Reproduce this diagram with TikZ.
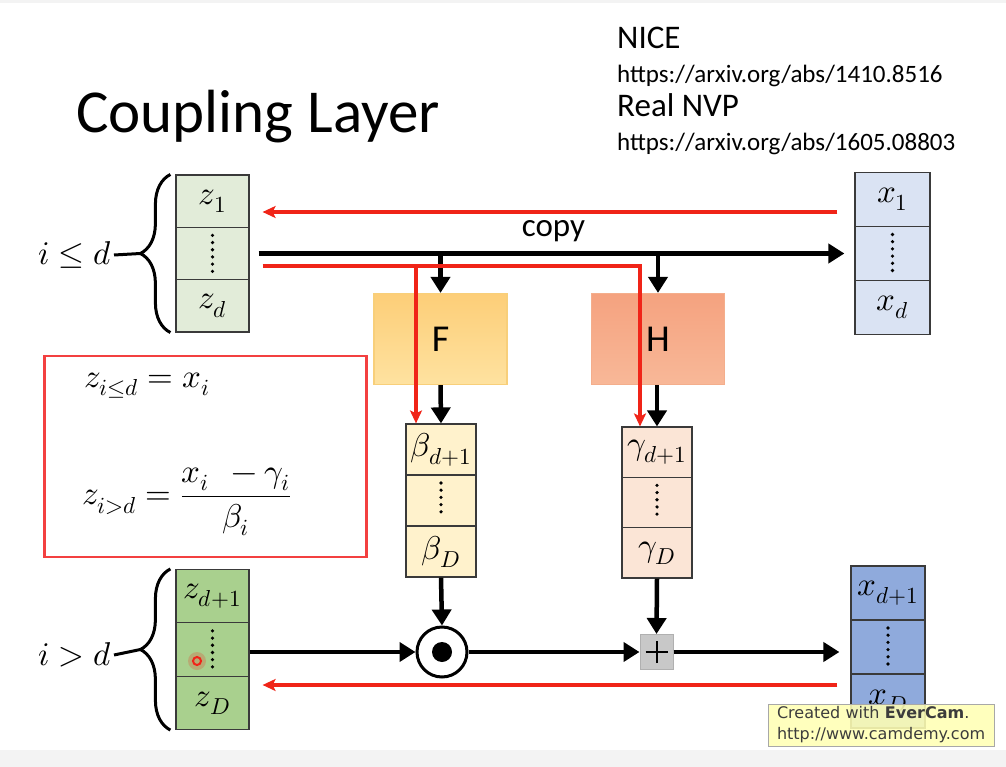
\documentclass[tikz,border=0pt]{standalone}
\usepackage{fontspec}
\usepackage{unicode-math}
\setmainfont{Carlito}
\newfontfamily\markfont{DejaVu Sans}
\usetikzlibrary{arrows.meta,decorations.pathreplacing,calc}

\definecolor{cellline}{HTML}{3A3A3A}
\definecolor{zlight}{HTML}{E2ECD9}
\definecolor{zdark}{HTML}{A9D08E}
\definecolor{xlight}{HTML}{DAE3F3}
\definecolor{xdark}{HTML}{8FAADC}
\definecolor{bfill}{HTML}{FFF2CC}
\definecolor{gfill}{HTML}{FBE5D6}
\definecolor{ftop}{HTML}{FDCE78}
\definecolor{fbot}{HTML}{FEE2A0}
\definecolor{fline}{HTML}{F8CF7A}
\definecolor{htop}{HTML}{F5A27F}
\definecolor{hbot}{HTML}{F8B898}
\definecolor{hline}{HTML}{F4AE8C}
\definecolor{arrowred}{RGB}{240,36,24}
\definecolor{boxred}{RGB}{243,64,64}
\definecolor{plusfill}{HTML}{C8C8C8}
\definecolor{plusline}{HTML}{B0B0B0}
\definecolor{bandgray}{HTML}{F3F3F3}
\definecolor{wmfill}{HTML}{FFFFB4}
\definecolor{wmline}{HTML}{A8A8A8}
\definecolor{wmtext}{HTML}{3C3C3C}

\newcommand\mathsz{\fontsize{33}{37}\selectfont}

\tikzset{
  cell/.style={draw=cellline, line width=1.2pt, inner sep=0pt, font=\mathsz},
  ztop/.style={cell, fill=zlight, minimum width=73pt, minimum height=52.3pt},
  zbot/.style={cell, fill=zdark, minimum width=73pt, minimum height=53.3pt},
  xtop/.style={cell, fill=xlight, minimum width=75pt, minimum height=54pt},
  xbot/.style={cell, fill=xdark, minimum width=74pt, minimum height=54pt},
  bcell/.style={cell, fill=bfill, minimum width=70pt, minimum height=51pt},
  gcell/.style={cell, fill=gfill, minimum width=70pt, minimum height=50.3pt},
  dotcol/.style={path picture={
      \draw[black, line width=3.6pt, line cap=round, dash pattern=on 0pt off 7.2pt]
        ([yshift=-8pt]path picture bounding box.north) --
        ([yshift=8pt]path picture bounding box.south);}},
  netbox/.style={minimum width=133pt, minimum height=91pt, line width=1.2pt,
      inner sep=0pt, font=\fontsize{38}{38}\selectfont},
  blkarr/.style={line width=4.5pt, -{Triangle[length=16pt,width=19pt]}},
  redarr/.style={draw=arrowred, line width=3.2pt,
      -{Stealth[length=13pt,width=12pt,inset=3pt]}},
  bracestyle/.style={line width=3pt, decorate,
      decoration={brace, amplitude=30pt, aspect=0.5}},
  mathlbl/.style={font=\mathsz, inner sep=2pt},
  sidetext/.style={anchor=base west, inner sep=0pt},
}

\begin{document}
\begin{tikzpicture}[x=1pt,y=-1pt]
\useasboundingbox (0,0) rectangle (1006,767);
\fill[white] (0,0) rectangle (1006,767);
\fill[bandgray] (0,0) rectangle (1006,3);
\fill[bandgray] (0,750) rectangle (1006,767);

% titles and references
\node[sidetext, font=\fontsize{61}{61}\selectfont] (title) at (76,133) {Coupling Layer};
\node[sidetext, font=\fontsize{33}{33}\selectfont] (nice) at (617,49) {NICE};
\node[sidetext, font=\fontsize{25}{25}\selectfont] (url1) at (617,83) {https://arxiv.org/abs/1410.8516};
\node[sidetext, font=\fontsize{33}{33}\selectfont] (rnvp) at (617,117) {Real NVP};
\node[sidetext, font=\fontsize{25}{25}\selectfont] (url2) at (617,151) {https://arxiv.org/abs/1605.08803};

% z, first part
\node[ztop] (zt1) at (212.5,201.2) {$z_1$};
\node[ztop, dotcol] (zt2) at (212.5,253.5) {};
\node[ztop] (zt3) at (212.5,305.8) {$z_d$};
% z, second part
\node[zbot] (zb1) at (212.5,596.2) {$z_{d+1}$};
\node[zbot, dotcol] (zb2) at (212.5,649.5) {};
\node[zbot] (zb3) at (212.5,702.8) {$z_D$};
% x, first part
\node[xtop] (xt1) at (892.5,199.5) {$x_1$};
\node[xtop, dotcol] (xt2) at (892.5,253.5) {};
\node[xtop] (xt3) at (892.5,307.5) {$x_d$};
% x, second part
\node[xbot] (xb1) at (888,593) {$x_{d+1}$};
\node[xbot, dotcol] (xb2) at (888,647) {};
\node[xbot] (xb3) at (888,701) {$x_D$};
% beta and gamma
\node[bcell] (bt1) at (441,449.5) {$\beta_{d+1}$};
\node[bcell, dotcol] (bt2) at (441,500.5) {};
\node[bcell] (bt3) at (441,551.5) {$\beta_D$};
\node[gcell] (gm1) at (657,452.2) {$\gamma_{d+1}$};
\node[gcell, dotcol] (gm2) at (657,502.5) {};
\node[gcell] (gm3) at (657,552.8) {$\gamma_D$};

% networks
\node[netbox, draw=fline, top color=ftop, bottom color=fbot] (F) at (440.5,339) {F};
\node[netbox, draw=hline, top color=htop, bottom color=hbot] (H) at (658,339) {H};

% operators
\node[circle, draw, line width=3pt, minimum size=50pt, inner sep=0pt,
      path picture={\fill[black] (path picture bounding box.center) circle (10pt);}] (od) at (442,652) {};
\node[draw=plusline, fill=plusfill, line width=1pt, minimum width=33pt, minimum height=35pt, inner sep=0pt,
      path picture={
        \draw[black, line width=2pt] ([xshift=-11pt]path picture bounding box.center) -- ([xshift=11pt]path picture bounding box.center);
        \draw[black, line width=2pt] ([yshift=-11pt]path picture bounding box.center) -- ([yshift=11pt]path picture bounding box.center);}] (pl) at (656.5,652) {};

% braces and index labels
\draw[bracestyle] ([xshift=-5pt]zt3.south west) -- ([xshift=-5pt]zt1.north west);
\coordinate (ztip) at ([xshift=-35pt]zt2.west);
\node[mathlbl, anchor=east] (lt) at (114,255) {$i \le d$};
\draw[line width=3pt] (lt.east) -- (ztip);
\draw[bracestyle] ([xshift=-5pt]zb3.south west) -- ([xshift=-5pt]zb1.north west);
\coordinate (zbtip) at ([xshift=-35pt]zb2.west);
\node[mathlbl, anchor=east] (lb) at (114,655) {$i > d$};
\draw[line width=3pt] (lb.east) -- (zbtip);

% copy path
\draw[redarr, shorten <=17pt, shorten >=13pt] ([yshift=-12.5pt]xt1.west) -- ([yshift=-12.5pt]xt1.west -| zt1.east);
\draw[blkarr, shorten <=9pt, shorten >=10pt] (zt2.east) -- (xt2.west);
\node[font=\fontsize{33}{33}\selectfont, anchor=base, inner sep=0pt] (copy) at (553.5,237) {copy};
\draw[blkarr] (F.north |- zt2.east) -- (F.north);
\draw[blkarr] (H.north |- zt2.east) -- (H.north);
\coordinate (rstart) at ([xshift=13pt,yshift=-12.5pt]zt2.east);
\draw[redarr] (rstart) -| ([xshift=-17pt]gm1.north);
\draw[redarr] ([xshift=-25pt]bt1.north |- rstart) -- ([xshift=-25pt]bt1.north);

% transform path
\draw[blkarr] (F.south) -- (bt1.north);
\draw[blkarr] (H.south -| gm1.north) -- (gm1.north);
\draw[blkarr] (bt3.south) -- (od.north);
\draw[blkarr] (gm3.south) -- (pl.north);
\draw[blkarr] (zb2.east |- od.center) -- (od.west);
\draw[blkarr] (od.east) -- (pl.west);
\draw[blkarr, shorten >=11pt] (pl.east) -- (pl.east -| xb2.west);
\draw[redarr, shorten <=13pt, shorten >=13pt] ([yshift=16pt]xb3.west) -- ([yshift=16pt]xb3.west -| zb3.east);

% inverse formulas
\node[draw=boxred, line width=2.5pt, minimum width=322pt, minimum height=201pt, inner sep=0pt] (fb) at (205.5,456.5) {};
\node[font=\mathsz, anchor=west, inner sep=0pt] (f1) at (84,386) {$z_{i\le d} = x_i$};
\node[font=\mathsz, anchor=west, inner sep=0pt] (f2) at (82,502) {$z_{i>d} = {\displaystyle\frac{x_i\;\, - \gamma_i}{\beta_i}}$};

% pointer highlight
\fill[arrowred, opacity=0.22] (197,661) circle (9pt);
\draw[arrowred, line width=2pt] (197,661) circle (4pt);

% recorder watermark
\node[draw=wmline, fill=wmfill, fill opacity=0.88, text opacity=1, text=wmtext,
      text width=208pt, inner xsep=9pt, inner ysep=3pt, align=left,
      font=\markfont\fontsize{16}{21}\selectfont] (wm) at (881,725)
  {Created with \textbf{EverCam}.\\http://www.camdemy.com};
\end{tikzpicture}
\end{document}
